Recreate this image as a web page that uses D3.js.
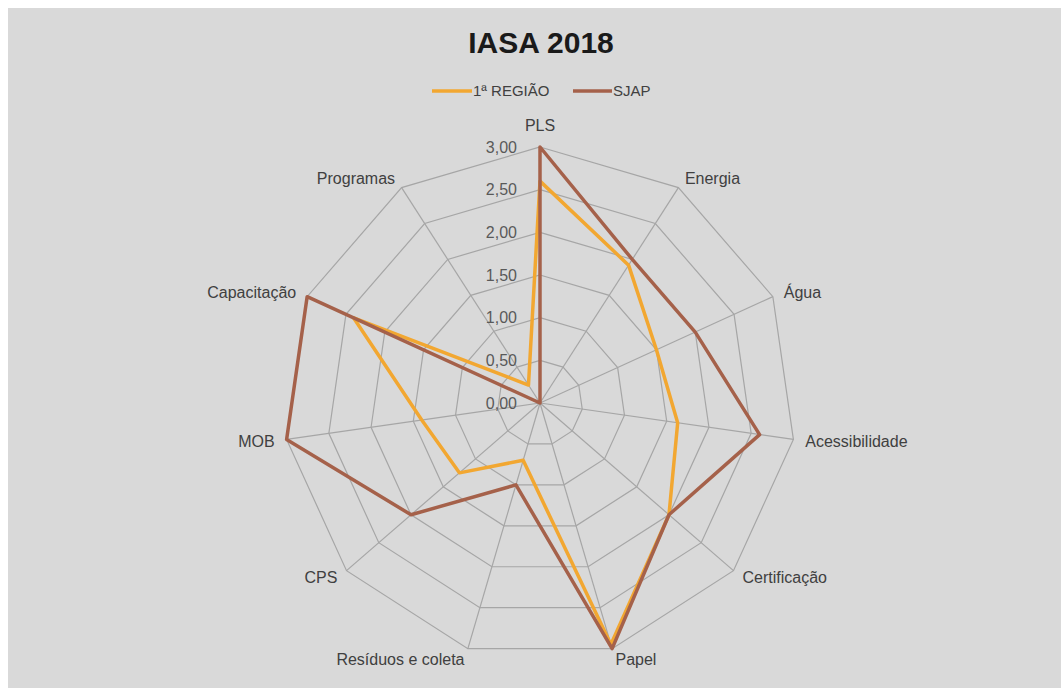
<!DOCTYPE html>
<html>
<head>
<meta charset="utf-8">
<script src="https://cdn.jsdelivr.net/npm/d3@7"></script>
<style>
  body { margin: 0; background: #fff; }
  text { font-family: "Liberation Sans", Arial, sans-serif; }
</style>
</head>
<body>
<svg width="1061" height="693"></svg>
<script>
var categories = ["PLS", "Energia", "Água", "Acessibilidade", "Certificação", "Papel",
                  "Resíduos e coleta", "CPS", "MOB", "Capacitação", "Programas"];
var regiao = [2.6, 1.92, 1.5, 1.63, 2.0, 2.95, 0.7, 1.25, 1.4, 2.4, 0.25];
var sjap = [3.0, 2.0, 2.0, 2.6, 2.0, 3.0, 1.0, 2.0, 3.0, 3.0, 0];
var ticks = [0, 0.5, 1, 1.5, 2, 2.5, 3];
var seriesNames = ["1ª REGIÃO", "SJAP"];
var colors = ["#f2a731", "#a5614a"];

var svg = d3.select("svg"),
    width = +svg.attr("width"),
    height = +svg.attr("height");

svg.append("rect")
    .attr("x", 8).attr("y", 8)
    .attr("width", width - 8).attr("height", 680)
    .attr("fill", "#d9d9d9");

var cx = 540, cy = 403;
var r = d3.scaleLinear().domain([0, 3]).range([0, 256]);
var angle = d3.scalePoint().domain(categories).range([0, 2 * Math.PI * (categories.length - 1) / categories.length]);

function pt(cat, v) {
    var a = angle(cat);
    return [cx + Math.sin(a) * r(v), cy - Math.cos(a) * r(v)];
}

var g = svg.append("g");

// rings
ticks.slice(1).forEach(function(t) {
    g.append("path")
        .attr("d", d3.line().curve(d3.curveLinearClosed)(categories.map(function(c) { return pt(c, t); })))
        .attr("fill", "none")
        .attr("stroke", "#a6a6a6")
        .attr("stroke-width", 1.2);
});

// spokes
g.selectAll(".spoke").data(categories).enter().append("line")
    .attr("x1", cx).attr("y1", cy)
    .attr("x2", function(d) { return pt(d, 3)[0]; })
    .attr("y2", function(d) { return pt(d, 3)[1]; })
    .attr("stroke", "#a6a6a6")
    .attr("stroke-width", 1.2);

// tick labels
g.selectAll(".tick").data(ticks).enter().append("text")
    .attr("x", cx - 23)
    .attr("y", function(d) { return cy - r(d); })
    .attr("dy", "0.35em")
    .attr("text-anchor", "end")
    .attr("font-size", 16)
    .attr("fill", "#595959")
    .text(function(d) { return d3.format(".2f")(d).replace(".", ","); });

// axis labels
g.selectAll(".lab").data(categories).enter().append("text")
    .attr("x", function(d) {
        var a = angle(d);
        return pt(d, 3)[0] + Math.sin(a) * 12;
    })
    .attr("y", function(d) {
        var a = angle(d);
        var off = (d === categories[0]) ? 22 : 11;
        return pt(d, 3)[1] - Math.cos(a) * off;
    })
    .attr("dy", "0.35em")
    .attr("text-anchor", function(d) {
        var s = Math.sin(angle(d));
        return Math.abs(s) < 0.1 ? "middle" : (s > 0 ? "start" : "end");
    })
    .attr("font-size", 16)
    .attr("fill", "#404040")
    .text(function(d) { return d; });

// series
var radial = d3.line().curve(d3.curveLinearClosed);
[regiao, sjap].forEach(function(vals, i) {
    g.append("path")
        .attr("d", radial(categories.map(function(c, j) { return pt(c, vals[j]); })))
        .attr("fill", "none")
        .attr("stroke", colors[i])
        .attr("stroke-width", 3.5)
        .attr("stroke-linejoin", "round");
});

// title
svg.append("text")
    .attr("x", 541).attr("y", 53)
    .attr("text-anchor", "middle")
    .attr("font-size", 30)
    .attr("font-weight", "bold")
    .attr("fill", "#1a1a1a")
    .text("IASA 2018");

// legend
var legendX = [432, 573];
var legendW = [40, 39];
seriesNames.forEach(function(name, i) {
    var lg = svg.append("g").attr("transform", "translate(" + legendX[i] + ",91)");
    lg.append("line")
        .attr("x1", 0).attr("x2", legendW[i])
        .attr("stroke", colors[i]).attr("stroke-width", 3.5);
    lg.append("text")
        .attr("x", legendW[i] + 1).attr("dy", "0.35em")
        .attr("font-size", 15)
        .attr("fill", "#404040")
        .text(name);
});
</script>
</body>
</html>
